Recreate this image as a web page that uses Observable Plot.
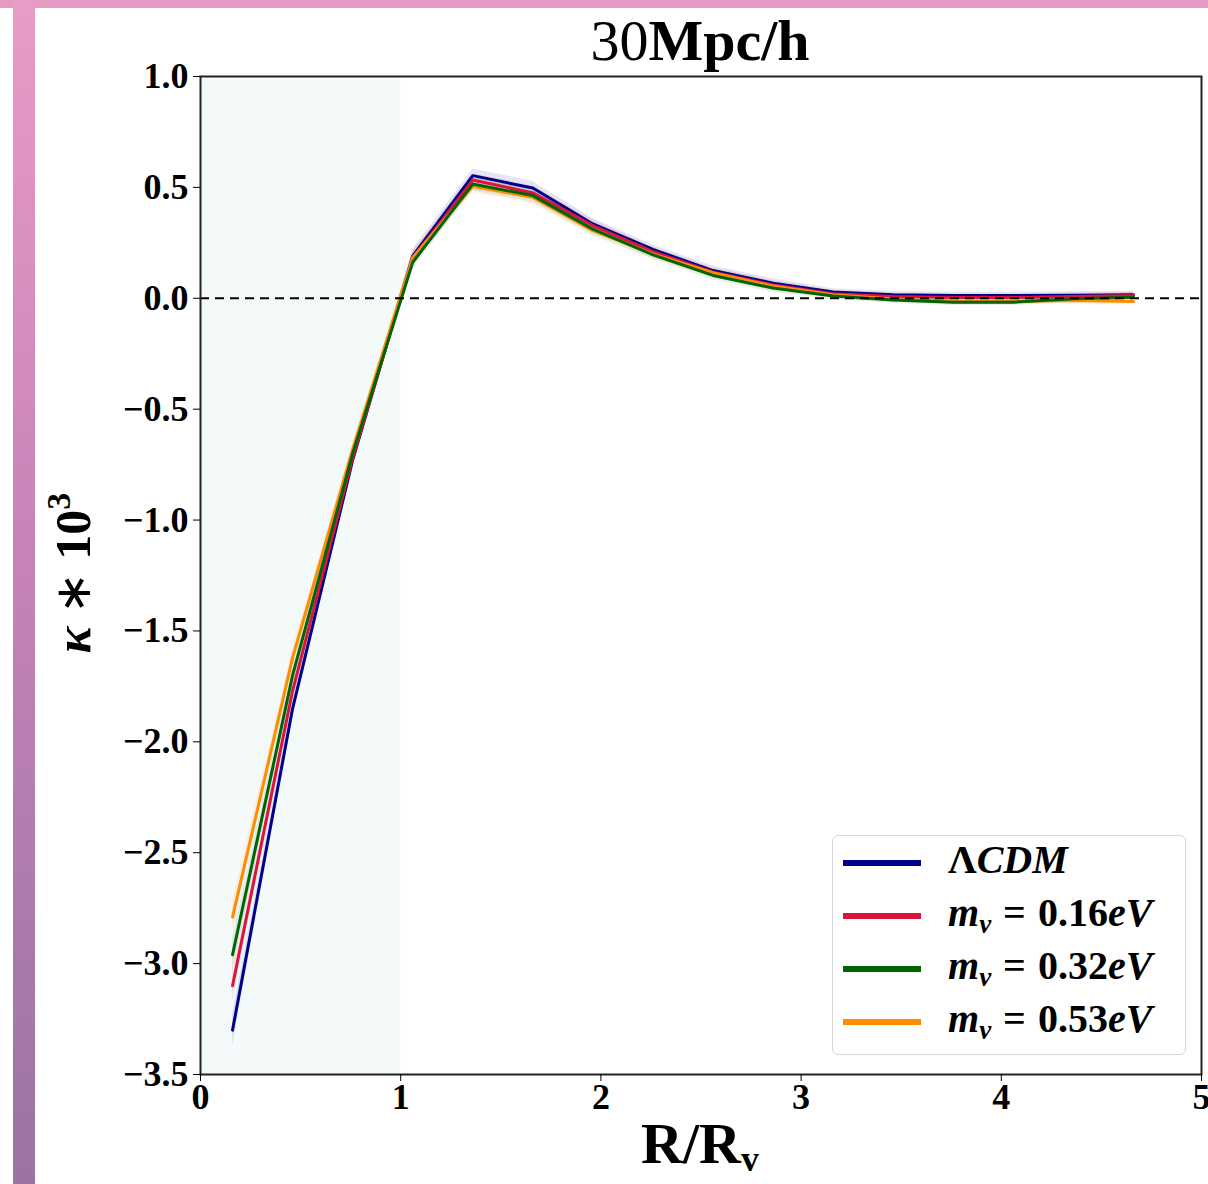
<!DOCTYPE html>
<html>
<head>
<meta charset="utf-8">
<script src="https://cdn.jsdelivr.net/npm/d3@7"></script>
<script src="https://cdn.jsdelivr.net/npm/@observablehq/plot@0.6"></script>
<style>
  html, body { margin: 0; padding: 0; background: #fff; }
  #page { position: relative; width: 1208px; height: 1184px; overflow: hidden; background: #fff; }
  #topbar { position: absolute; left: 0; top: 0; width: 1208px; height: 8px; background: #e59bc4; }
  #sidebar { position: absolute; left: 13px; top: 0; width: 22px; height: 1184px;
             background: linear-gradient(to bottom, #e89cc6 0%, #c884b8 45%, #9a73a4 100%); }
  #chart { position: absolute; left: 0; top: 0; }
  .serif { font-family: "Liberation Serif", "Times New Roman", serif; color: #000; }
  #title { position: absolute; left: 0; width: 1400px; top: 12px; text-align: center; font-size: 58px; line-height: 58px; }
  #ylabel { position: absolute; left: 73px; top: 573px; transform: translate(-50%, -50%) rotate(-90deg);
            white-space: nowrap; font-size: 50px; font-weight: bold; }
  #xlabel { position: absolute; left: 700px; top: 1144px; transform: translate(-50%, -50%);
            white-space: nowrap; font-size: 58px; line-height: 60px; font-weight: bold; }
  #legend { position: absolute; left: 832px; top: 835px; width: 354px; height: 220px; box-sizing: border-box;
            border: 1.5px solid #d6d6d6; border-radius: 6px; background: rgba(255,255,255,0.85); }
  .row { position: absolute; left: 0; height: 40px; width: 350px; }
  .swatch { position: absolute; left: 10px; top: 17px; width: 78px; height: 6px; }
  .lab { position: absolute; left: 115px; top: -3px; font-size: 40px; line-height: 40px; font-weight: bold; white-space: nowrap; }
  .lab i { font-style: italic; }
  .lab .eq { margin: 0 12px; }
  .lab sub { font-size: 27px; vertical-align: -7px; line-height: 0; }
</style>
</head>
<body>
<div id="page">
  <div id="topbar"></div>
  <div id="sidebar"></div>
  <div id="chart"></div>
  <div id="title" class="serif">30<b>Mpc/h</b></div>
  <div id="ylabel" class="serif"><i>κ</i> <span style="font-weight:normal">∗</span> 10<sup style="font-size:34px;vertical-align:20px;line-height:0">3</sup></div>
  <div id="xlabel" class="serif">R/R<sub style="font-size:36px;vertical-align:-8px;line-height:0">v</sub></div>
  <div id="legend" class="serif"></div>
</div>
<script>
// ---- data ----
const rOverRv = [0.16, 0.46, 0.76, 1.06, 1.36, 1.66, 1.96, 2.26, 2.56, 2.86, 3.16, 3.46, 3.76, 4.06, 4.36, 4.66];

const kappaLCDM = [-3.30, -1.85, -0.73, 0.19, 0.553, 0.497, 0.335, 0.220, 0.125, 0.068, 0.028, 0.016, 0.012, 0.012, 0.014, 0.016];
const kappa016  = [-3.10, -1.77, -0.72, 0.180, 0.533, 0.475, 0.328, 0.210, 0.118, 0.060, 0.020, 0.008, 0.003, 0.003, 0.008, 0.012];
const kappa032  = [-2.96, -1.70, -0.70, 0.162, 0.515, 0.463, 0.312, 0.196, 0.103, 0.046, 0.010, -0.008, -0.018, -0.018, -0.002, 0.005];
const kappa053  = [-2.79, -1.62, -0.68, 0.184, 0.505, 0.455, 0.305, 0.200, 0.115, 0.055, 0.016, -0.003, -0.012, -0.013, -0.010, -0.015];

const errLCDM = [0.07, 0.04, 0.03, 0.03, 0.03, 0.03, 0.025, 0.02, 0.02, 0.02, 0.015, 0.015, 0.015, 0.015, 0.015, 0.015];
const err016  = [0.07, 0.04, 0.03, 0.03, 0.03, 0.03, 0.025, 0.02, 0.02, 0.02, 0.015, 0.015, 0.015, 0.015, 0.015, 0.015];
const err032  = [0.07, 0.04, 0.03, 0.03, 0.03, 0.03, 0.025, 0.02, 0.02, 0.02, 0.015, 0.015, 0.015, 0.015, 0.015, 0.015];
const err053  = [0.07, 0.04, 0.03, 0.03, 0.03, 0.03, 0.025, 0.02, 0.02, 0.02, 0.015, 0.015, 0.015, 0.015, 0.015, 0.015];

const seriesKeys   = ["LCDM", "m016", "m032", "m053"];
const seriesLabels = ["<span>Λ</span><i>CDM</i>",
                      "<i>m</i><sub><i>ν</i></sub><span class=\"eq\">=</span>0.16<i>eV</i>",
                      "<i>m</i><sub><i>ν</i></sub><span class=\"eq\">=</span>0.32<i>eV</i>",
                      "<i>m</i><sub><i>ν</i></sub><span class=\"eq\">=</span>0.53<i>eV</i>"];
const seriesColors = ["#00008b", "#dc143c", "#006400", "#ff8c00"];
const drawOrder    = ["LCDM", "m016", "m053", "m032"];

const xTicks = [0, 1, 2, 3, 4, 5];
const yTicks = [-3.5, -3.0, -2.5, -2.0, -1.5, -1.0, -0.5, 0.0, 0.5, 1.0];
const shadedRegion = [{start: 0, end: 1}];

// ---- build table ----
const values = {LCDM: kappaLCDM, m016: kappa016, m032: kappa032, m053: kappa053};
const errors = {LCDM: errLCDM, m016: err016, m032: err032, m053: err053};
const colorOf = Object.fromEntries(seriesKeys.map((k, i) => [k, seriesColors[i]]));
const rows = drawOrder.flatMap(k => rOverRv.map((x, i) => ({
  key: k, x, y: values[k][i], lo: values[k][i] - errors[k][i], hi: values[k][i] + errors[k][i]
})));

const marks = [
  Plot.rect(shadedRegion, {x1: "start", x2: "end", fill: "#f4fafa"})
];
for (const k of drawOrder) {
  const d = rows.filter(r => r.key === k);
  marks.push(Plot.areaY(d, {x: "x", y1: "lo", y2: "hi", fill: colorOf[k], fillOpacity: 0.1}));
}
for (const k of drawOrder) {
  const d = rows.filter(r => r.key === k);
  marks.push(Plot.line(d, {x: "x", y: "y", stroke: colorOf[k], strokeWidth: 3}));
}
marks.push(Plot.ruleY([0], {stroke: "#000", strokeWidth: 2, strokeDasharray: "9,6"}));
marks.push(Plot.frame({stroke: "#222", strokeWidth: 2}));
marks.push(Plot.axisX({ticks: xTicks, tickFormat: d3.format("d"), tickSize: 7, tickPadding: 2, label: null}));
marks.push(Plot.axisY({ticks: yTicks, tickFormat: d3.format(".1f"), tickSize: 7, tickPadding: 5, label: null}));

const chart = Plot.plot({
  width: 1208,
  height: 1184,
  marginLeft: 200,
  marginRight: 7,
  marginTop: 76,
  marginBottom: 110,
  x: {domain: [0, 5]},
  y: {domain: [-3.5, 1]},
  style: {fontFamily: "'Liberation Serif', serif", fontSize: "36px", fontWeight: "bold", background: "transparent", color: "#000", overflow: "visible"},
  marks
});
document.getElementById("chart").appendChild(chart);

// ---- legend ----
const legend = document.getElementById("legend");
seriesKeys.forEach((k, i) => {
  const row = document.createElement("div");
  row.className = "row";
  row.style.top = (7 + i * 53) + "px";
  row.innerHTML = `<div class="swatch" style="background:${seriesColors[i]}"></div><div class="lab">${seriesLabels[i]}</div>`;
  legend.appendChild(row);
});
</script>
</body>
</html>
